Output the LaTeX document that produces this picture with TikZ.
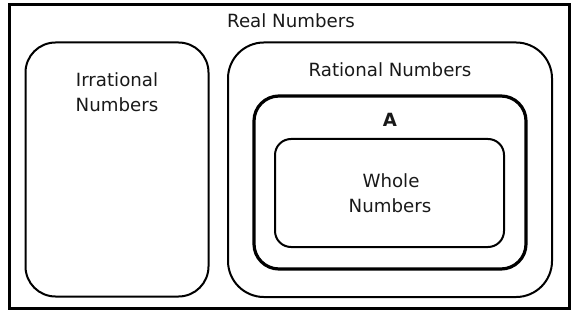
\documentclass[tikz,border=0pt]{standalone}
\usepackage{fontspec}
\setmainfont{DejaVu Sans}
\begin{document}
\begin{tikzpicture}[x=0.75pt,y=-0.75pt,
  setbox/.style={draw=black,line width=1.5pt,inner sep=0pt,fill=none},
  lbl/.style={font=\fontsize{13.65pt}{18.75pt}\selectfont,inner sep=0pt,anchor=base,text=black!90}]
\useasboundingbox (0,0) rectangle (580,327);
\node[draw=black,line width=2.25pt,inner sep=0pt,minimum width=420pt,minimum height=228pt] (real) at (289.5,156.5) {};
\node[setbox,rounded corners=22.5pt,minimum width=137.25pt,minimum height=190.5pt] (irr) at (117,169.5) {};
\node[setbox,rounded corners=27pt,minimum width=243pt,minimum height=190.9pt] (rat) at (390,169.75) {};
\node[setbox,line width=2.4pt,rounded corners=18.75pt,minimum width=204pt,minimum height=129.75pt] (aset) at (390,182.5) {};
\node[setbox,rounded corners=12pt,minimum width=171.75pt,minimum height=81pt] (whole) at (389.5,193) {};
\node[lbl] (realt) at (291,28) {Real Numbers};
\node[lbl] (ratt) at (390,77) {Rational Numbers};
\node[lbl] (irrt1) at (117,87) {Irrational};
\node[lbl] (irrt2) at (117,112) {Numbers};
\node[lbl,font=\fontsize{13.65pt}{18.75pt}\selectfont\bfseries] (at) at (390,127) {A};
\node[lbl] (wt1) at (391,188) {Whole};
\node[lbl] (wt2) at (390,213) {Numbers};
\end{tikzpicture}
\end{document}
